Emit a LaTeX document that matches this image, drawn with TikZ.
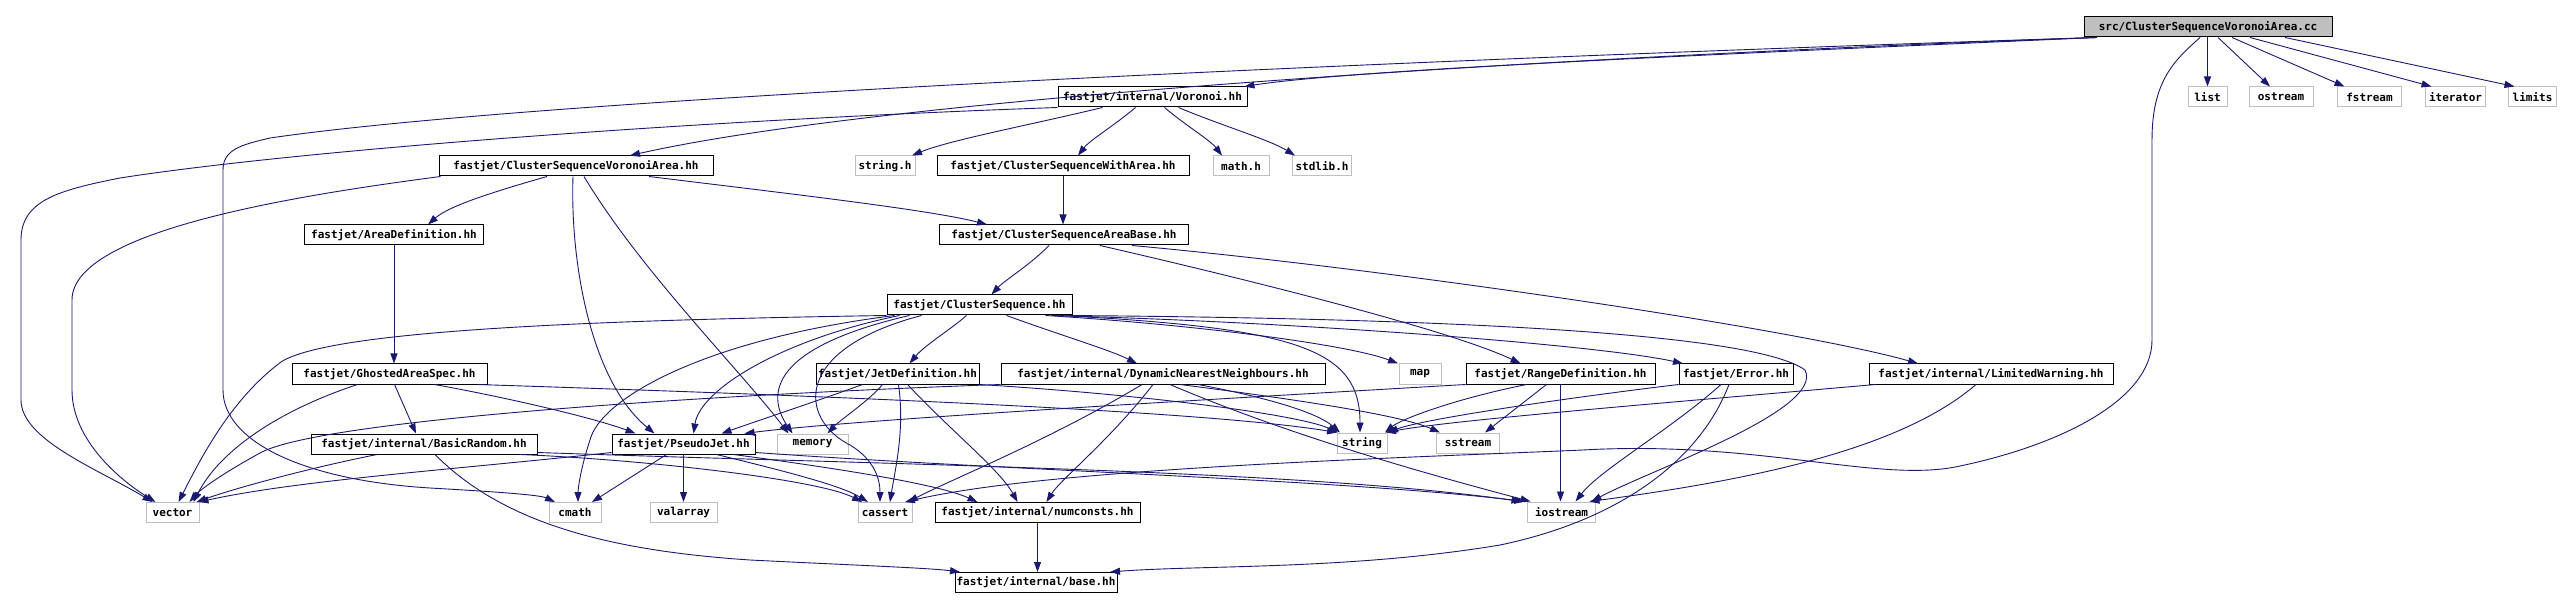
\documentclass[tikz,border=0pt]{standalone}
\usepackage{fontspec}
\setmonofont{DejaVu Sans Mono}
\usepackage{tikz}
\usetikzlibrary{arrows.meta,positioning,calc}
\definecolor{edgeblue}{RGB}{25,25,112}
\definecolor{sysgray}{RGB}{191,191,191}

\begin{document}
\begin{tikzpicture}[x=1pt,y=-1pt,
    box/.style={rectangle,inner sep=0pt,minimum height=20pt,font=\ttfamily\bfseries\fontsize{11}{12}\selectfont,line width=1pt},
    hdr/.style={box,draw=black,fill=white},
    sys/.style={box,draw=sysgray,fill=white},
    rootbox/.style={box,draw=black,fill=sysgray},
    dep/.style={draw=edgeblue,line width=0.9pt,-{Triangle[length=10pt,width=7pt]}}]
  \useasboundingbox (0,0) rectangle (2561,609);
  % Files
  \node[rootbox,minimum width=248pt] (root)   at (2208,27)    {src/ClusterSequenceVoronoiArea.cc};
  \node[sys,minimum width=39pt]      (list)   at (2207.5,97)  {list};
  \node[sys,minimum width=64pt]      (ostr)   at (2281,97)    {ostream};
  \node[sys,minimum width=64pt]      (fstr)   at (2369.5,97)  {fstream};
  \node[sys,minimum width=60pt]      (iter)   at (2455.5,97)  {iterator};
  \node[sys,minimum width=48pt]      (lim)    at (2532.5,97)  {limits};
  \node[hdr,minimum width=189pt]     (vor)    at (1152.5,97)  {fastjet/internal/Voronoi.hh};
  \node[hdr,minimum width=274pt]     (csva)   at (576,166)    {fastjet/ClusterSequenceVoronoiArea.hh};
  \node[sys,minimum width=60pt]      (strh)   at (885,166)    {string.h};
  \node[hdr,minimum width=252pt]     (cswa)   at (1063,166)   {fastjet/ClusterSequenceWithArea.hh};
  \node[sys,minimum width=56pt]      (mathh)  at (1241,166)   {math.h};
  \node[sys,minimum width=59pt]      (stdl)   at (1322,166)   {stdlib.h};
  \node[hdr,minimum width=179pt]     (adef)   at (394,235)    {fastjet/AreaDefinition.hh};
  \node[hdr,minimum width=249pt]     (csab)   at (1064,235)   {fastjet/ClusterSequenceAreaBase.hh};
  \node[hdr,minimum width=185pt]     (cs)     at (979.5,305)  {fastjet/ClusterSequence.hh};
  \node[hdr,minimum width=195pt]     (gas)    at (389.5,374)  {fastjet/GhostedAreaSpec.hh};
  \node[hdr,minimum width=163pt]     (jdef)   at (897.5,374)  {fastjet/JetDefinition.hh};
  \node[hdr,minimum width=324pt]     (dnn)    at (1163,374)   {fastjet/internal/DynamicNearestNeighbours.hh};
  \node[sys,minimum width=42pt]      (map)    at (1420,374)   {map};
  \node[hdr,minimum width=189pt]     (rdef)   at (1560.5,374) {fastjet/RangeDefinition.hh};
  \node[hdr,minimum width=114pt]     (err)    at (1736,374)   {fastjet/Error.hh};
  \node[hdr,minimum width=244pt]     (lw)     at (1991,374)   {fastjet/internal/LimitedWarning.hh};
  \node[hdr,minimum width=226pt]     (brand)  at (424,444)    {fastjet/internal/BasicRandom.hh};
  \node[hdr,minimum width=143pt]     (pj)     at (683.5,444)  {fastjet/PseudoJet.hh};
  \node[sys,minimum width=71pt]      (mem)    at (812.5,444)  {memory};
  \node[sys,minimum width=50pt]      (str)    at (1362,443)   {string};
  \node[sys,minimum width=63pt]      (sstr)   at (1468,443)   {sstream};
  \node[sys,minimum width=53pt]      (vec)    at (172.5,512.5){vector};
  \node[sys,minimum width=52pt]      (cmath)  at (575,512.5)  {cmath};
  \node[sys,minimum width=67pt]      (valar)  at (683.5,512.5){valarray};
  \node[sys,minimum width=54pt]      (cass)   at (885,512.5)  {cassert};
  \node[hdr,minimum width=205pt]     (ncon)   at (1037.5,512.5){fastjet/internal/numconsts.hh};
  \node[sys,minimum width=68pt]      (iostr)  at (1561.5,512)  {iostream};
  \node[hdr,minimum width=162pt]     (base)   at (1036,582.5) {fastjet/internal/base.hh};

  % src/ClusterSequenceVoronoiArea.cc
  \draw[dep] (root.south -| list.north) -- (list.north);
  \draw[dep] ([xshift=10]root.south) -- ([xshift=-11]ostr.north);
  \draw[dep] ([xshift=24]root.south) -- ([xshift=-25]fstr.north);
  \draw[dep] ([xshift=42]root.south) -- ([xshift=-24]iter.north);
  \draw[dep] ([xshift=77]root.south) -- ([xshift=-18]lim.north);
  \draw[dep] ([xshift=-8]root.south) .. controls (2175,60) and (2152,80) .. (2152,140) -- (2152,340)
    .. controls (2152,400) and (2060,445) .. (1960,466) .. controls (1880,484) and (1760,440) .. (1583,450)
    .. controls (1400,458) and (1050,468) .. ([xshift=20]cass.north);
  \draw[dep] ([xshift=13]root.south west) .. controls (1700,50) and (600,90) .. (270,138)
    .. controls (240,145) and (223,150) .. (223,170) -- (223,390)
    .. controls (223,440) and (300,480) .. (430,488) .. controls (500,492) and (540,495) .. ([xshift=-20]cmath.north);
  \draw[dep] ([xshift=13]root.south west) .. controls (1600,55) and (900,95) .. ([xshift=54]csva.north);
  \draw[dep] ([xshift=13]root.south west) .. controls (1700,55) and (1350,70) .. ([xshift=92]vor.north);
  % fastjet/internal/Voronoi.hh
  \draw[dep] (vor.south west) .. controls (700,120) and (300,150) .. (120,178)
    .. controls (60,190) and (21,200) .. (21,240) -- (21,400)
    .. controls (21,440) and (100,470) .. ([xshift=-20]vec.north);
  \draw[dep] ([xshift=-50]vor.south) .. controls (1030,125) and (950,140) .. ([xshift=27]strh.north);
  \draw[dep] ([xshift=-17]vor.south) .. controls (1115,125) and (1090,140) .. ([xshift=15]cswa.north);
  \draw[dep] ([xshift=12]vor.south) .. controls (1185,125) and (1210,140) .. ([xshift=-19]mathh.north);
  \draw[dep] ([xshift=26]vor.south) .. controls (1220,125) and (1270,140) .. ([xshift=-27]stdl.north);
  \draw[dep] (cswa.south) -- (cswa.south |- csab.north);
  % fastjet/ClusterSequenceVoronoiArea.hh
  \draw[dep] ([xshift=-29]csva.south) .. controls (500,190) and (450,205) .. ([xshift=34]adef.north);
  \draw[dep] ([xshift=2]csva.south west) .. controls (300,195) and (72,230) .. (72,300) -- (72,390)
    .. controls (72,440) and (120,480) .. ([xshift=-17]vec.north);
  \draw[dep] ([xshift=-3]csva.south) .. controls (570,260) and (590,380) .. ([xshift=-29]pj.north);
  \draw[dep] ([xshift=8]csva.south) .. controls (640,270) and (740,370) .. ([xshift=-24]mem.north);
  \draw[dep] ([xshift=73]csva.south) .. controls (800,195) and (930,210) .. ([xshift=-77]csab.north);
  \draw[dep] (adef.south) -- (adef.south |- gas.north);
  % fastjet/ClusterSequenceAreaBase.hh
  \draw[dep] ([xshift=-15]csab.south) .. controls (1030,265) and (1005,280) .. ([xshift=12]cs.north);
  \draw[dep] ([xshift=36]csab.south) .. controls (1250,280) and (1450,330) .. ([xshift=-40]rdef.north);
  \draw[dep] ([xshift=68]csab.south) .. controls (1400,270) and (1800,330) .. ([xshift=-73]lw.north);
  % fastjet/ClusterSequence.hh
  \draw[dep] ([xshift=-13]cs.south) .. controls (950,330) and (925,345) .. ([xshift=12]jdef.north);
  \draw[dep] ([xshift=27]cs.south) .. controls (1060,335) and (1110,350) .. ([xshift=-26]dnn.north);
  \draw[dep] ([xshift=66]cs.south) .. controls (1200,325) and (1350,345) .. ([xshift=-22]map.north);
  \draw[dep] ([xshift=72]cs.south) .. controls (1300,322) and (1600,345) .. ([xshift=-53]err.north);
  \draw[dep] ([xshift=80]cs.south) .. controls (1300,328) and (1360,350) .. ([xshift=-2]str.north);
  \draw[dep] ([xshift=88]cs.south) .. controls (1400,318) and (1750,330) .. (1805,370)
    .. controls (1825,410) and (1650,470) .. ([xshift=30]iostr.north);
  \draw[dep] (cs.south west) .. controls (600,320) and (330,330) .. (281,362)
    .. controls (230,400) and (200,460) .. ([xshift=6]vec.north);
  \draw[dep] ([xshift=-85]cs.south) .. controls (700,340) and (600,400) .. (590,440)
    .. controls (580,470) and (578,490) .. ([xshift=3]cmath.north);
  \draw[dep] ([xshift=-80]cs.south) .. controls (780,340) and (700,390) .. ([xshift=10]pj.north);
  \draw[dep] ([xshift=-70]cs.south) .. controls (760,350) and (770,400) .. ([xshift=-20]mem.north);
  \draw[dep] ([xshift=-58]cs.south) .. controls (790,350) and (800,420) .. (850,445)
    .. controls (875,460) and (880,480) .. ([xshift=-5]cass.north);
  % fastjet/JetDefinition.hh
  \draw[dep] ([xshift=-35]jdef.south) .. controls (820,400) and (760,420) .. ([xshift=38]pj.north);
  \draw[dep] ([xshift=-15]jdef.south) .. controls (870,400) and (840,420) .. ([xshift=15]mem.north);
  \draw[dep] ([xshift=1]jdef.south) .. controls (905,430) and (895,470) .. ([xshift=5]cass.north);
  \draw[dep] ([xshift=10]jdef.south) .. controls (950,430) and (1000,470) .. ([xshift=-20]ncon.north);
  \draw[dep] (jdef.south east) .. controls (1150,395) and (1300,415) .. ([xshift=-24]str.north);
  % fastjet/internal/DynamicNearestNeighbours.hh
  \draw[dep] ([xshift=-21]dnn.south) .. controls (1050,440) and (950,480) .. ([xshift=23]cass.north);
  \draw[dep] ([xshift=-10]dnn.south) .. controls (1110,440) and (1060,480) .. ([xshift=9]ncon.north);
  \draw[dep] (dnn.south west) .. controls (700,395) and (320,420) .. (260,453)
    .. controls (220,475) and (200,490) .. ([xshift=17]vec.north);
  \draw[dep] ([xshift=35]dnn.south) .. controls (1280,400) and (1320,415) .. ([xshift=-22]str.north);
  \draw[dep] ([xshift=17]dnn.south) .. controls (1300,400) and (1400,415) .. ([xshift=-28]sstr.north);
  \draw[dep] ([xshift=7]dnn.south) .. controls (1300,440) and (1450,480) .. ([xshift=-31]iostr.north);
  % fastjet/RangeDefinition.hh
  \draw[dep] (rdef.south west) .. controls (1200,400) and (850,420) .. ([xshift=61]pj.north);
  \draw[dep] ([xshift=-34]rdef.south) .. controls (1450,400) and (1400,420) .. ([xshift=23]str.north);
  \draw[dep] ([xshift=-14]rdef.south) -- ([xshift=17]sstr.north);
  \draw[dep] (rdef.south) -- (rdef.south |- iostr.north);
  % fastjet/Error.hh
  \draw[dep] (err.south west) .. controls (1550,400) and (1420,420) .. ([xshift=26]str.north);
  \draw[dep] ([xshift=-15]err.south) .. controls (1670,430) and (1600,470) .. ([xshift=14]iostr.north);
  \draw[dep] ([xshift=-7]err.south) .. controls (1700,460) and (1620,520) .. (1500,545)
    .. controls (1350,570) and (1200,565) .. ([xshift=74]base.north);
  % fastjet/internal/LimitedWarning.hh
  \draw[dep] ([xshift=7]lw.south west) .. controls (1700,400) and (1450,420) .. ([xshift=24]str.north);
  \draw[dep] ([xshift=-15]lw.south) .. controls (1900,450) and (1750,480) .. ([xshift=28]iostr.north);
  % fastjet/GhostedAreaSpec.hh
  \draw[dep] ([xshift=-32]gas.south) .. controls (280,410) and (220,450) .. ([xshift=21]vec.north);
  \draw[dep] ([xshift=5]gas.south) -- ([xshift=-8]brand.north);
  \draw[dep] ([xshift=45]gas.south) .. controls (520,400) and (600,420) .. ([xshift=-48]pj.north);
  \draw[dep] ([xshift=88]gas.south) .. controls (800,395) and (1200,410) .. ([xshift=-25]str.north);
  % fastjet/internal/BasicRandom.hh
  \draw[dep] ([xshift=-47]brand.south) .. controls (300,470) and (230,490) .. ([xshift=24]vec.north);
  \draw[dep] ([xshift=11]brand.south) .. controls (500,520) and (600,550) .. (750,560)
    .. controls (850,565) and (930,568) .. ([xshift=-76]base.north);
  \draw[dep] ([xshift=96]brand.south) .. controls (650,460) and (820,480) .. ([xshift=-23]cass.north);
  \draw[dep] ([yshift=2]brand.south east) .. controls (900,465) and (1300,470) .. ([xshift=-40]iostr.north);
  % fastjet/PseudoJet.hh
  \draw[dep] ([yshift=2]pj.south west) .. controls (450,470) and (300,480) .. ([xshift=26]vec.north);
  \draw[dep] ([xshift=-17]pj.south) -- ([xshift=17]cmath.north);
  \draw[dep] (pj.south) -- (pj.south |- valar.north);
  \draw[dep] ([xshift=33]pj.south) .. controls (780,470) and (840,485) .. ([xshift=-17]cass.north);
  \draw[dep] ([xshift=50]pj.south) .. controls (850,470) and (940,485) .. ([xshift=-60]ncon.north);
  \draw[dep] ([yshift=2]pj.south east) .. controls (1000,470) and (1350,480) .. ([xshift=-37]iostr.north);
  % fastjet/internal/numconsts.hh
  \draw[dep] (ncon.south) -- (ncon.south |- base.north);
\end{tikzpicture}
\end{document}
